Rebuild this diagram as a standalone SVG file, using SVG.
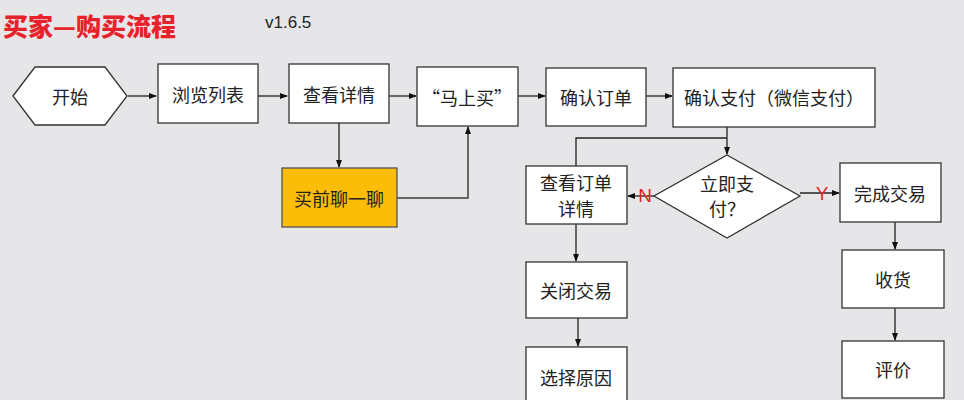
<svg xmlns="http://www.w3.org/2000/svg" width="964" height="400" viewBox="0 0 964 400">
<defs>
<marker id="arr" markerWidth="8" markerHeight="8" refX="7" refY="4" orient="auto" markerUnits="userSpaceOnUse">
<path d="M0,1 L8,4 L0,7 Z" fill="#111"/>
</marker>
<style>
.box{fill:#fff;stroke:#333;stroke-width:1.3}
.t{font-family:"Noto Sans CJK SC","Liberation Sans",sans-serif;font-size:18px;fill:#222;text-anchor:middle;dominant-baseline:central}
.c{fill:none;stroke:#222;stroke-width:1.3}
.g{fill:none;stroke:#666;stroke-width:2}
.yn{font-family:"Liberation Sans",sans-serif;font-size:19px;fill:#e0262a;text-anchor:middle;dominant-baseline:central}
</style>
</defs>
<rect width="964" height="400" fill="#e6e6e9"/>
<text x="3" y="25" font-family="Noto Sans CJK SC,sans-serif" font-size="25" font-weight="900" fill="#e8222a" dominant-baseline="central">买家—购买流程</text>
<text x="265" y="22" font-family="Liberation Sans,sans-serif" font-size="17" fill="#222" dominant-baseline="central">v1.6.5</text>

<g id="connectors">
<line class="c" x1="128" y1="96" x2="156" y2="96" marker-end="url(#arr)"/>
<line class="c" x1="258" y1="96" x2="287" y2="96" marker-end="url(#arr)"/>
<line class="c" x1="389" y1="96" x2="416" y2="96" marker-end="url(#arr)"/>
<line class="c" x1="518" y1="96" x2="545" y2="96" marker-end="url(#arr)"/>
<line class="c" x1="646" y1="96" x2="672" y2="96" marker-end="url(#arr)"/>
<line class="c" x1="339" y1="123" x2="339" y2="167" marker-end="url(#arr)"/>
<polyline class="g" points="397,198 468,198 468,127" marker-end="url(#arr)"/>
<line class="c" x1="727" y1="127" x2="727" y2="154" marker-end="url(#arr)"/>
<polyline class="c" points="576,166 576,138 727,138"/>
<line class="c" x1="654" y1="196" x2="628" y2="196" marker-end="url(#arr)"/>
<line class="c" x1="800" y1="193" x2="839" y2="193" marker-end="url(#arr)"/>
<line class="c" x1="576" y1="224" x2="576" y2="261" marker-end="url(#arr)"/>
<line class="c" x1="578" y1="318" x2="578" y2="346" marker-end="url(#arr)"/>
<line class="c" x1="895" y1="222" x2="895" y2="249" marker-end="url(#arr)"/>
<line class="c" x1="895" y1="308" x2="895" y2="340" marker-end="url(#arr)"/>
<text class="yn" x="645" y="195">N</text>
<text class="yn" x="822" y="193">Y</text>
</g>

<g id="start"><polygon class="box" points="13,96 35,67 105,67 127,96 105,125 35,125"/><text class="t" x="70" y="96">开始</text></g>
<g id="browse"><rect class="box" x="158" y="64" width="100" height="59"/><text class="t" x="208" y="94">浏览列表</text></g>
<g id="detail"><rect class="box" x="289" y="64" width="100" height="59"/><text class="t" x="339" y="94">查看详情</text></g>
<g id="buynow"><rect class="box" x="417" y="67" width="101" height="59"/><text class="t" x="467" y="97">“马上买”</text></g>
<g id="confirm"><rect class="box" x="546" y="68" width="100" height="58"/><text class="t" x="596" y="97">确认订单</text></g>
<g id="pay"><rect class="box" x="673" y="68" width="202" height="59"/><text class="t" x="774" y="97">确认支付（微信支付）</text></g>
<g id="chat"><rect x="282" y="168" width="115" height="59" fill="#fcbd08" stroke="#555" stroke-width="1.3"/><text class="t" x="339" y="198" fill="#3a2a00">买前聊一聊</text></g>
<g id="decide"><polygon class="box" points="727,155 800,196 727,238 654,196"/><text class="t" x="727" y="183">立即支</text><text class="t" x="727" y="208">付？</text></g>
<g id="orderdetail"><rect class="box" x="526" y="166" width="101" height="58"/><text class="t" x="576" y="182">查看订单</text><text class="t" x="576" y="208">详情</text></g>
<g id="done"><rect class="box" x="840" y="163" width="101" height="59"/><text class="t" x="890" y="193">完成交易</text></g>
<g id="close"><rect class="box" x="526" y="262" width="101" height="56"/><text class="t" x="576" y="290">关闭交易</text></g>
<g id="reason"><rect class="box" x="526" y="347" width="101" height="60"/><text class="t" x="576" y="377">选择原因</text></g>
<g id="receive"><rect class="box" x="842" y="250" width="102" height="58"/><text class="t" x="893" y="279">收货</text></g>
<g id="review"><rect class="box" x="842" y="341" width="102" height="57"/><text class="t" x="893" y="369">评价</text></g>
</svg>
